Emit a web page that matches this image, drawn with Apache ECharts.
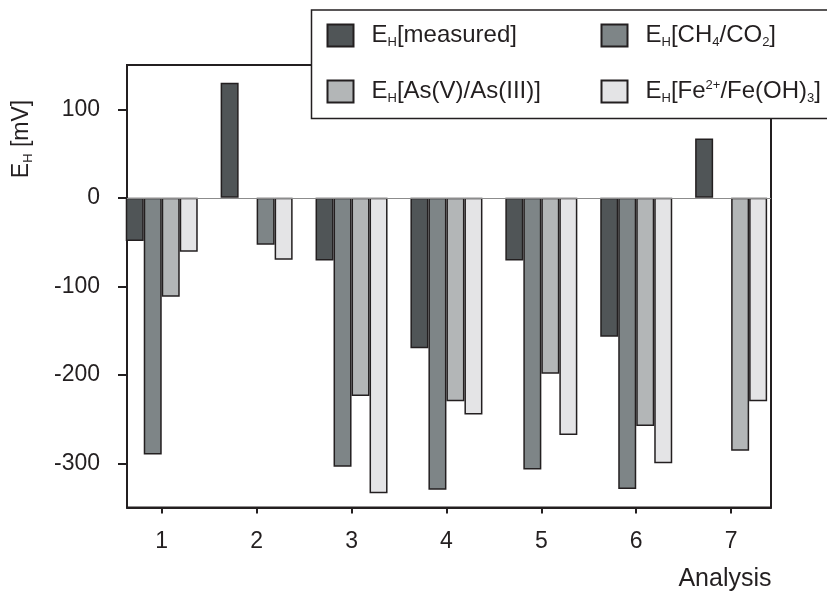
<!DOCTYPE html>
<html>
<head>
<meta charset="utf-8">
<script src="https://cdn.jsdelivr.net/npm/echarts@6/dist/echarts.min.js"></script>
<style>
html,body{margin:0;padding:0;background:#fff;overflow:hidden;}
#chart{width:827px;height:592px;}
</style>
</head>
<body>
<div id="chart"></div>
<script>
// ---- data ----
const categories = [1, 2, 3, 4, 5, 6, 7];
const measured = [-49, 130, -71, -170, -71, -157, 67];
const ch4co2 = [-290, null, -304, -330, -307, -329, null];
const asVIII = [-112, -53, -224, -230, -199, -258, -286];
const feOH3 = [-61, -70, -334, -245, -268, -300, -230];
const yTicks = [-300, -200, -100, 0, 100];
const xTicks = [1, 2, 3, 4, 5, 6, 7];
const seriesNames = ['EH[measured]', 'EH[CH4/CO2]', 'EH[As(V)/As(III)]', 'EH[Fe2+/Fe(OH)3]'];
// legend reads column-wise: left column measured / As, right column CH4 / Fe
const legendOrder = ['EH[measured]', 'EH[As(V)/As(III)]', 'EH[CH4/CO2]', 'EH[Fe2+/Fe(OH)3]'];
const legendLabels = {
  'EH[measured]': 'E{sub|H}[measured]',
  'EH[CH4/CO2]': 'E{sub|H}[CH{sub|4}/CO{sub|2}]',
  'EH[As(V)/As(III)]': 'E{sub|H}[As(V)/As(III)]',
  'EH[Fe2+/Fe(OH)3]': 'E{sub|H}[Fe{sup|2+}/Fe(OH){sub|3}]'
};

// ---- styles ----
const INK = '#231f20';
const FONT = 'Liberation Sans, Arial, sans-serif';
const colors = ['#505557', '#7e8587', '#b3b6b7', '#e4e4e6'];
const rich = {
  sub: {fontSize: 13, lineHeight: 12, verticalAlign: 'bottom', fontFamily: FONT, color: INK},
  sup: {fontSize: 13, lineHeight: 12, verticalAlign: 'top', fontFamily: FONT, color: INK}
};

function toData(vals, overrideColors) {
  return categories.map((c, i) => {
    const v = vals[i];
    if (v === null) return [c, '-'];
    if (overrideColors && overrideColors[i]) {
      return {value: [c, v], itemStyle: {color: overrideColors[i]}};
    }
    return [c, v];
  });
}

const valueSets = [measured, ch4co2, asVIII, feOH3];
// in analysis 2 the third bar is drawn in the CH4/CO2 tone in the original figure
const overrides = [null, null, {1: colors[1]}, null];

const series = valueSets.map((vals, k) => {
  const s = {
    name: seriesNames[k],
    type: 'bar',
    data: toData(vals, overrides[k]),
    barWidth: 18,
    barGap: '0%',
    itemStyle: {color: colors[k], borderColor: INK, borderWidth: 1.5},
    emphasis: {disabled: true}
  };
  if (k === 0) {
    s.markLine = {
      silent: true,
      symbol: 'none',
      label: {show: false},
      lineStyle: {color: '#8c8c8c', width: 1, type: 'solid'},
      data: [{yAxis: 0}]
    };
  }
  return s;
});

const chart = echarts.init(document.getElementById('chart'), null, {renderer: 'canvas'});
chart.setOption({
  animation: false,
  backgroundColor: '#fff',
  grid: {
    left: 127, top: 65, width: 644, height: 442.5,
    show: true, borderColor: INK, borderWidth: 2, backgroundColor: 'transparent'
  },
  xAxis: {
    type: 'value',
    min: 0.634, max: 7.42,
    axisLine: {show: true, onZero: false, lineStyle: {color: INK, width: 2}},
    axisTick: {show: true, inside: false, length: 6, customValues: xTicks, lineStyle: {color: INK, width: 2}},
    axisLabel: {show: true, customValues: xTicks, margin: 23, color: INK, fontSize: 23, fontFamily: FONT},
    splitLine: {show: false}
  },
  yAxis: {
    type: 'value',
    min: -350, max: 150,
    axisLine: {show: true, lineStyle: {color: INK, width: 2}},
    axisTick: {show: true, inside: false, length: 9, customValues: yTicks, lineStyle: {color: INK, width: 2}},
    axisLabel: {show: true, customValues: yTicks, margin: 27, color: INK, fontSize: 23, fontFamily: FONT},
    splitLine: {show: false}
  },
  legend: {
    data: legendOrder,
    orient: 'vertical',
    left: 311, top: 10,
    height: 90,
    padding: [12.5, 0, 14, 15.5],
    itemGap: 30,
    itemWidth: 26,
    itemHeight: 22,
    icon: 'rect',
    z: 10,
    selectedMode: false,
    formatter: name => legendLabels[name],
    textStyle: {
      fontSize: 24, lineHeight: 26, color: INK, fontFamily: FONT,
      width: 199, padding: [0, 0, 0, 13],
      rich: rich
    }
  },
  graphic: [
    {
      type: 'rect',
      z: 5,
      shape: {x: 311.5, y: 10, width: 520, height: 108.5},
      style: {fill: '#fff', lineWidth: 0}
    },
    {
      type: 'polyline',
      z: 6,
      shape: {points: [[840, 10], [311.5, 10], [311.5, 118.5], [840, 118.5]]},
      style: {fill: null, stroke: INK, lineWidth: 1.5}
    },
    {
      type: 'text',
      x: 22, y: 139,
      rotation: Math.PI / 2,
      style: {
        text: 'E{sub|H} [mV]',
        align: 'center', verticalAlign: 'middle',
        fontSize: 23, lineHeight: 26, fontFamily: FONT, fill: INK,
        rich: rich
      }
    },
    {
      type: 'text',
      x: 771.5, y: 579.5,
      style: {
        text: 'Analysis',
        align: 'right', verticalAlign: 'middle',
        fontSize: 25, fontFamily: FONT, fill: INK
      }
    }
  ],
  series: series
});
</script>
</body>
</html>
